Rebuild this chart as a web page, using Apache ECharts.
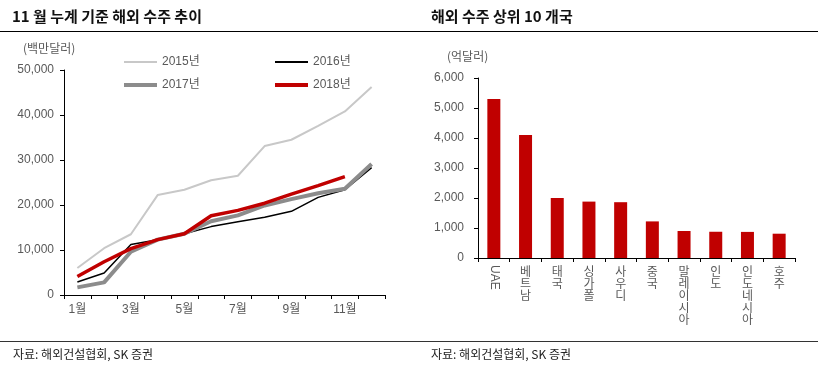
<!DOCTYPE html>
<html><head><meta charset="utf-8">
<script src="https://cdn.jsdelivr.net/npm/echarts@6/dist/echarts.min.js"></script>
<style>html,body{margin:0;padding:0;background:#fff}#c{width:820px;height:368px}</style>
</head><body><div id="c"></div>
<script>
const months = ['1월','2월','3월','4월','5월','6월','7월','8월','9월','10월','11월','12월'];
const y2015 = [6000, 10400, 13500, 22200, 23400, 25500, 26500, 33100, 34500, 37600, 40800, 46200];
const y2016 = [2900, 4900, 11200, 12300, 13600, 15200, 16300, 17300, 18600, 21700, 23400, 28300];
const y2017 = [1700, 2800, 9600, 12300, 13600, 16400, 17700, 19900, 21300, 22600, 23600, 29100];
const y2018 = [4100, 7400, 10300, 12300, 13600, 17600, 18800, 20400, 22400, 24300, 26300];
const countries = ['UAE','베트남','태국','싱가폴','사우디','중국','말레이시아','인도','인도네시아','호주'];
const orders = [5300, 4100, 2000, 1880, 1860, 1220, 900, 875, 870, 810];

const FONT = '"Liberation Sans", "Noto Sans CJK KR", sans-serif';
const KFONT = '"Noto Sans CJK KR", sans-serif';
const GRAY = '#595959';
const fmt = v => v.toLocaleString('en-US');

const chart = echarts.init(document.getElementById('c'), null, {renderer: 'canvas'});
const legendBase = {orient: 'horizontal', padding: 0, itemWidth: 33, icon: 'rect', itemGap: 4,
  textStyle: {color: GRAY, fontSize: 12, fontFamily: FONT}};

chart.setOption({
  animation: false,
  textStyle: {fontFamily: FONT},
  grid: [
    {left: 64, top: 70, width: 321, height: 225, containLabel: false},
    {left: 478, top: 78, width: 317, height: 180, containLabel: false}
  ],
  legend: [
    Object.assign({}, legendBase, {left: 124, top: 56, itemHeight: 2, data: ['2015년']}),
    Object.assign({}, legendBase, {left: 275, top: 56, itemHeight: 2, data: ['2016년']}),
    Object.assign({}, legendBase, {left: 124, top: 79, itemHeight: 4, data: ['2017년']}),
    Object.assign({}, legendBase, {left: 275, top: 79, itemHeight: 4, data: ['2018년']})
  ],
  xAxis: [
    {type: 'category', gridIndex: 0, position: 'bottom', data: months, boundaryGap: true,
      axisLine: {lineStyle: {color: '#000', width: 1}},
      axisTick: {show: true, interval: 0, length: 4, lineStyle: {color: '#000'}},
      axisLabel: {interval: 1, color: GRAY, fontSize: 12, margin: 9, fontFamily: FONT}},
    {type: 'category', gridIndex: 1, position: 'bottom', data: countries, boundaryGap: true,
      axisLine: {lineStyle: {color: '#000', width: 1}},
      axisTick: {show: true, interval: 0, length: 4, lineStyle: {color: '#000'}},
      axisLabel: {interval: 0, color: GRAY, fontSize: 12, lineHeight: 12, margin: 7, fontFamily: KFONT,
        verticalAlign: 'top',
        formatter: v => v === 'UAE' ? '' : v.split('').join('\n')}},
    {type: 'category', gridIndex: 1, position: 'bottom', offset: 0, data: countries, boundaryGap: true,
      axisLine: {show: false}, axisTick: {show: false},
      axisLabel: {interval: 0, rotate: -90, color: GRAY, fontSize: 12, margin: 7, fontFamily: FONT,
        formatter: v => v === 'UAE' ? v : ''}}
  ],
  yAxis: [
    {type: 'value', gridIndex: 0, min: 0, max: 50000, interval: 10000,
      axisLine: {show: true, lineStyle: {color: '#000', width: 1}},
      axisTick: {show: true, length: 4, lineStyle: {color: '#000'}},
      splitLine: {show: false},
      axisLabel: {color: GRAY, fontSize: 12, margin: 10, formatter: fmt, fontFamily: FONT}},
    {type: 'value', gridIndex: 1, min: 0, max: 6000, interval: 1000,
      axisLine: {show: true, lineStyle: {color: '#000', width: 1}},
      axisTick: {show: true, length: 4, lineStyle: {color: '#000'}},
      splitLine: {show: false},
      axisLabel: {color: GRAY, fontSize: 12, margin: 14, formatter: fmt, fontFamily: FONT}}
  ],
  series: [
    {name: '2015년', type: 'line', xAxisIndex: 0, yAxisIndex: 0, data: y2015, showSymbol: false, symbol: 'none',
      lineStyle: {color: '#c8c8c8', width: 2}, itemStyle: {color: '#c8c8c8'}},
    {name: '2016년', type: 'line', xAxisIndex: 0, yAxisIndex: 0, data: y2016, showSymbol: false, symbol: 'none',
      lineStyle: {color: '#000000', width: 1.5}, itemStyle: {color: '#000000'}},
    {name: '2017년', type: 'line', xAxisIndex: 0, yAxisIndex: 0, data: y2017, showSymbol: false, symbol: 'none',
      lineStyle: {color: '#8c8c8c', width: 4}, itemStyle: {color: '#8c8c8c'}},
    {name: '2018년', type: 'line', xAxisIndex: 0, yAxisIndex: 0, data: y2018, showSymbol: false, symbol: 'none',
      lineStyle: {color: '#c00000', width: 3.5}, itemStyle: {color: '#c00000'}},
    {name: '수주', type: 'bar', xAxisIndex: 1, yAxisIndex: 1, data: orders, barWidth: 13,
      itemStyle: {color: '#c00000'}}
  ],
  graphic: [
    {type: 'text', left: 12, top: 9, style: {text: '11 월 누계 기준 해외 수주 추이', fill: '#111', font: 'bold 15px ' + KFONT}},
    {type: 'text', left: 431, top: 9, style: {text: '해외 수주 상위 10 개국', fill: '#111', font: 'bold 15px ' + KFONT}},
    {type: 'line', shape: {x1: 0, y1: 31.5, x2: 818, y2: 31.5}, style: {stroke: '#000', lineWidth: 1}},
    {type: 'line', shape: {x1: 0, y1: 341.5, x2: 818, y2: 341.5}, style: {stroke: '#333', lineWidth: 1}},
    {type: 'text', left: 23, top: 42, style: {text: '(백만달러)', fill: GRAY, font: '12px ' + KFONT}},
    {type: 'text', left: 447, top: 50, style: {text: '(억달러)', fill: GRAY, font: '12px ' + KFONT}},
    {type: 'text', left: 13, top: 348, style: {text: '자료: 해외건설협회, SK 증권', fill: '#222', font: '12px ' + KFONT}},
    {type: 'text', left: 431, top: 348, style: {text: '자료: 해외건설협회, SK 증권', fill: '#222', font: '12px ' + KFONT}}
  ]
});
</script></body></html>
